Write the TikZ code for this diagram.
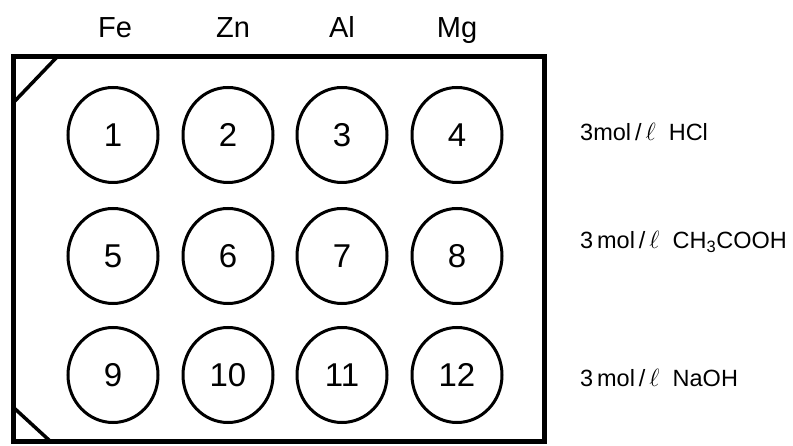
\documentclass[tikz,border=0pt]{standalone}
\usepackage{fontspec}
\setmainfont{Liberation Sans}
\usetikzlibrary{shapes.geometric}
\begin{document}
\begin{tikzpicture}[x=1pt,y=-1pt,
  well/.style={ellipse, draw, line width=3pt, minimum width=90pt, minimum height=95pt,
    inner sep=0pt, font=\fontsize{33}{33}\selectfont},
  metal/.style={anchor=base, inner sep=0pt, font=\fontsize{29}{29}\selectfont},
  acid/.style={anchor=west, inner sep=0pt, font=\fontsize{23.5}{23.5}\selectfont},
  plate/.style={line width=5pt},
  notch/.style={line width=3.5pt}]
\useasboundingbox (0,0) rectangle (793,446);

% spot plate outline with the two cut corners
\draw[plate] (13,57) rectangle (544,441);
\coordinate (tl1) at (13,103);
\coordinate (tl2) at (57,57);
\coordinate (bl1) at (13,407);
\coordinate (bl2) at (50,441);
\draw[notch] (tl1) -- (tl2);
\draw[notch] (bl1) -- (bl2);

% metal names above the columns
\node[metal] (fe) at (115,38) {Fe};
\node[metal] (zn) at (233,38) {Zn};
\node[metal] (al) at (342,38) {Al};
\node[metal] (mg) at (457,38) {Mg};

% the twelve wells
\foreach \r/\yy in {0/135,1/256,2/375}
  \foreach \c/\xx in {1/113,2/228,3/342,4/457} {
    \pgfmathtruncatemacro\n{4*\r+\c}
    \node[well] (w\n) at (\xx,\yy) {\n};
  }

% reagents for each row
\node[acid] (hcl)  at (580,132) {3mol\,/\,$\ell$\ \ HCl};
\node[acid] (acet) at (580,242) {3\,mol\,/\,$\ell$\ \ CH\textsubscript{3}COOH};
\node[acid] (naoh) at (580,378) {3\,mol\,/\,$\ell$\ \ NaOH};
\end{tikzpicture}
\end{document}
